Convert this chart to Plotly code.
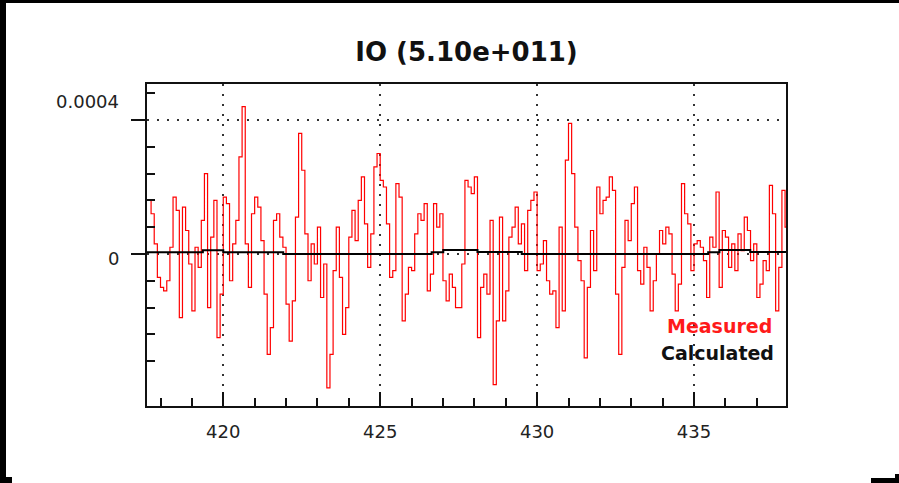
import plotly.graph_objects as go

# ---------------- data ----------------
title_text = "IO (5.10e+011)"
scale = 1e-4  # values below are in units of 1e-4

x_start = 417.6
x_step = 0.1
measured_vals = [
    1.6, 1.2, 0.3, -0.7, -1.0, -1.1, -0.8, 0.2, 1.7, 1.3,
    -1.9, 1.4, 0.7, -0.3, -1.7, 0.2, -0.4, 1.0, 2.4, -1.6,
    0.5, 1.6, -2.5, -1.2, 1.7, 1.5, -0.8, 0.3, 1.0, 2.9,
    4.4, 0.3, -1.0, 1.2, 1.7, 1.4, 0.4, -1.2, -3.0, -2.2,
    1.0, 1.2, 0.5, 0.2, -1.5, -2.6, -1.4, 1.1, 3.6, 2.5,
    0.6, -0.8, 0.3, -0.3, 0.8, -1.3, -0.3, -4.0, -3.0, -0.5,
    0.8, -0.7, -2.4, -1.6, 0.5, 1.3, 0.4, 1.6, 2.3, 0.9,
    -0.4, 0.6, 2.6, 3.0, 2.2, 2.0, 0.9, -0.7, -0.5, 2.1,
    1.7, -2.0, -1.2, -0.4, -0.5, 0.6, 1.2, 1.0, 1.5, -1.1,
    -0.6, 1.5, 0.8, 1.2, -0.8, -1.4, -0.6, -1.0, -1.6, -1.6,
    -0.3, 2.2, 2.0, 1.8, 2.3, -2.5, -1.0, -0.6, -1.2, 1.0,
    -3.9, -2.0, 1.1, -2.0, -1.1, 0.5, 0.8, 1.4, 0.3, 0.9,
    -0.5, 1.3, 1.6, 1.85, -0.5, -0.3, 0.4, -0.8, -1.2, -1.1,
    -2.2, 0.8, -1.7, 2.8, 3.9, 2.4, 0.8, -0.2, -0.8, -3.1,
    -1.0, 0.7, -0.5, 2.0, 1.2, 1.6, 1.7, 2.3, 1.9, -1.2,
    -3.0, -0.4, 1.0, 0.4, 1.5, 2.0, -0.5, -0.9, 0.2, -0.4,
    -1.7, -0.8, 0.0, 0.7, 0.3, 0.8, 0.6, -0.6, -1.7, -0.9,
    2.1, 1.2, 0.9, -0.5, 0.3, 0.4, 0.2, -0.2, -1.3, 0.5,
    0.2, 1.85, -1.0, 0.7, 0.5, -0.4, 0.3, -0.5, 0.6, 0.1,
    1.1, 0.7, -0.2, 0.3, -1.3, -0.9, -0.2, -0.5, 2.05, 1.2,
    -1.7, -0.4, 1.9, 0.8, -1.4,
]
measured_x = [round(x_start + x_step * i, 4) for i in range(len(measured_vals))]

calc_x = [417.5, 419.35, 420.0, 421.91, 426.64, 427.01, 428.10, 429.51,
          435.45, 435.81, 436.79, 438.0]
calc_vals = [0.05, 0.11, 0.05, 0.0, 0.05, 0.12, 0.06, 0.0,
             0.05, 0.12, 0.06, 0.06]

x_range = [417.57, 437.93]
y_range = [-4.54, 5.075]
x_major = [420, 425, 430, 435]
x_major_labels = ["420", "425", "430", "435"]
y_major = [0.0, 4.0]
y_major_labels = ["0", "0.0004"]
y_minor = [4.8, 3.2, 2.4, 1.6, 0.8, -0.8, -1.6, -2.4, -3.2]
legend_labels = ["Measured", "Calculated"]

# --------------- figure ---------------
W, H = 899, 483
L, R, T, B = 147, 786, 84, 406  # plot area in pixels


def px_x(px):
    return (px - L) / (R - L)


def px_y(py):
    return (B - py) / (B - T)


fig = go.Figure()
fig.add_trace(go.Scatter(
    x=measured_x, y=[v * scale for v in measured_vals],
    mode="lines", line=dict(color="#ff0000", width=1.2, shape="hv"),
    showlegend=False, hoverinfo="skip"))
fig.add_trace(go.Scatter(
    x=calc_x, y=[v * scale for v in calc_vals],
    mode="lines", line=dict(color="#000000", width=2, shape="hv"),
    showlegend=False, hoverinfo="skip"))

fig.update_layout(
    width=W, height=H,
    margin=dict(l=L, r=W - R, t=T, b=H - B, pad=0),
    paper_bgcolor="white", plot_bgcolor="white",
    font=dict(family="DejaVu Sans", size=18, color="#222222"),
    title=dict(text="<b>" + title_text + "</b>", x=px_x((L + R) / 2), xref="paper",
               xanchor="center", y=1 - 52 / H, yanchor="middle",
               font=dict(family="DejaVu Sans", size=26, color="#111111")),
    showlegend=False,
)

fig.update_xaxes(
    range=x_range, showline=True, linecolor="#111111", linewidth=2, mirror=True,
    tickmode="array", tickvals=x_major, ticktext=x_major_labels,
    ticks="inside", ticklen=14, tickwidth=1.5, tickcolor="#111111",
    ticklabelstandoff=8,
    showgrid=True, gridcolor="#333333", gridwidth=2, griddash="2px,8px",
    zeroline=False,
    minor=dict(ticks="inside", ticklen=8, tickwidth=1.5, tickcolor="#111111",
               dtick=1, tick0=0, showgrid=False),
)
fig.update_yaxes(
    range=[y_range[0] * scale, y_range[1] * scale],
    showline=True, linecolor="#111111", linewidth=2, mirror=True,
    tickmode="array", tickvals=[v * scale for v in y_major],
    showticklabels=False,
    ticks="outside", ticklen=14, tickwidth=1.5, tickcolor="#111111",
    showgrid=True, gridcolor="#333333", gridwidth=2, griddash="2px,8px",
    zeroline=False,
    minor=dict(ticks="inside", ticklen=8, tickwidth=1.5, tickcolor="#111111",
               tickmode="array", tickvals=[v * scale for v in y_minor],
               showgrid=False),
)

# y tick labels (placed where the reference shows them)
y_label_pos = [(-0.149, y_major_labels[0]), (4.567, y_major_labels[1])]
for yv, txt in y_label_pos:
    fig.add_annotation(text=txt, xref="paper", yref="y", x=px_x(121), y=yv * scale,
                       xanchor="right", yanchor="middle", showarrow=False,
                       font=dict(family="DejaVu Sans", size=18, color="#222222"))

# legend-like labels
fig.add_annotation(text="<b>" + legend_labels[0] + "</b>", xref="paper", yref="paper",
                   x=px_x(774), y=px_y(326), xanchor="right", yanchor="middle",
                   showarrow=False,
                   font=dict(family="DejaVu Sans", size=19, color="#ff1a1a"))
fig.add_annotation(text="<b>" + legend_labels[1] + "</b>", xref="paper", yref="paper",
                   x=px_x(776), y=px_y(353), xanchor="right", yanchor="middle",
                   showarrow=False,
                   font=dict(family="DejaVu Sans", size=19, color="#111111"))

# black window edges seen in the reference screenshot
edges = [
    (0, 0, W, 3),        # top bar
    (0, 0, 6, 478),      # left bar
    (0, 477, 12, H),     # bottom-left foot
    (871, 478, 897, H),  # bottom-right piece
    (895, 474, W, H),
]
for x0, y0, x1, y1 in edges:
    fig.add_shape(type="rect", xref="paper", yref="paper",
                  x0=px_x(x0), x1=px_x(x1), y0=px_y(y0), y1=px_y(y1),
                  fillcolor="black", line=dict(width=0), layer="above")

fig.write_html("out.html")
